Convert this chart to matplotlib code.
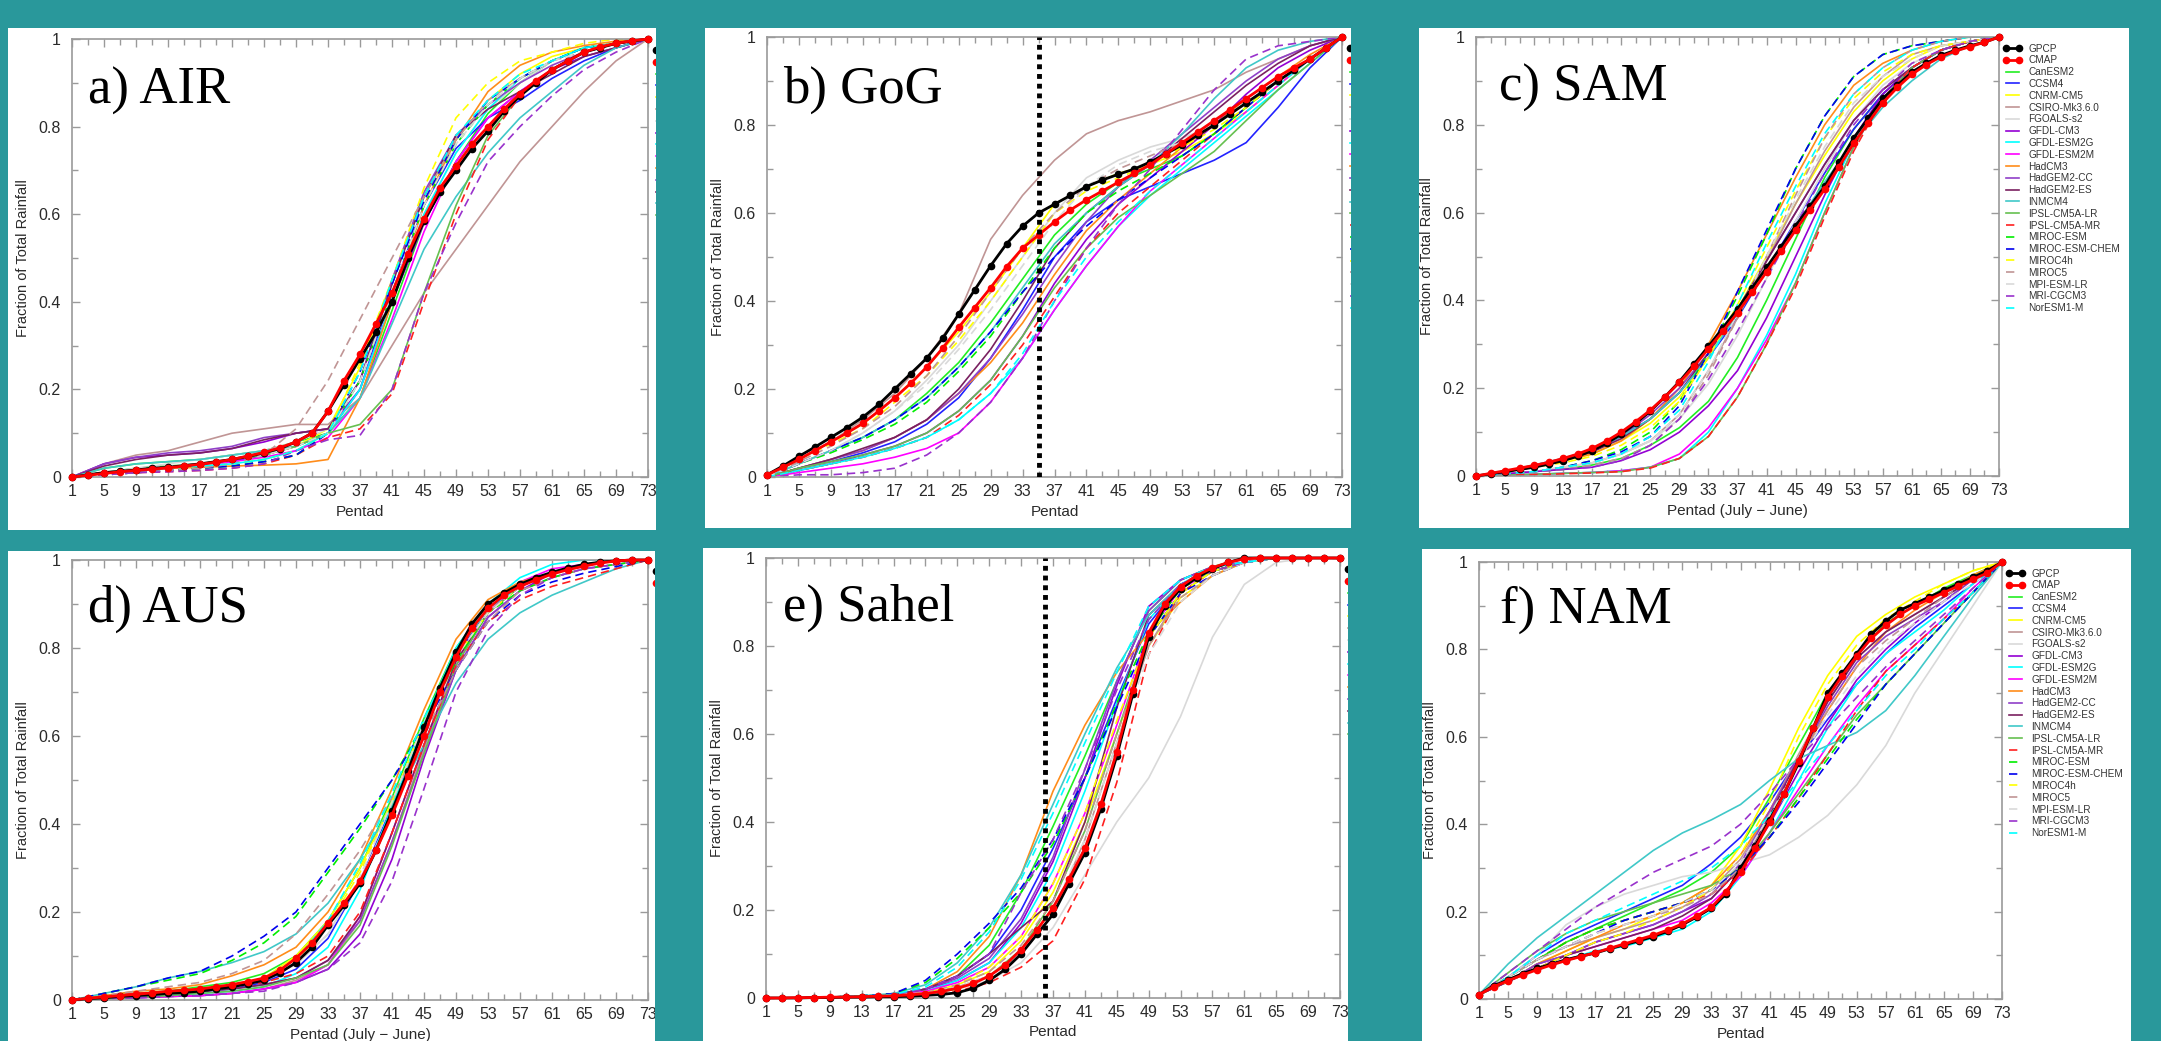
import matplotlib
matplotlib.use("Agg")
import matplotlib.pyplot as plt
from matplotlib.path import Path
from matplotlib.patches import PathPatch
from matplotlib.transforms import Bbox, TransformedBbox

plt.rcParams['font.family'] = ['Liberation Sans', 'DejaVu Sans']

OBS_PENTADS = list(range(1, 74, 2))
MODEL_PENTADS = list(range(1, 74, 4))

MODEL_NAMES = ["CanESM2", "CCSM4", "CNRM-CM5", "CSIRO-Mk3.6.0", "FGOALS-s2", "GFDL-CM3",
               "GFDL-ESM2G", "GFDL-ESM2M", "HadCM3", "HadGEM2-CC", "HadGEM2-ES", "INMCM4",
               "IPSL-CM5A-LR", "IPSL-CM5A-MR", "MIROC-ESM", "MIROC-ESM-CHEM", "MIROC4h",
               "MIROC5", "MPI-ESM-LR", "MRI-CGCM3", "NorESM1-M"]
MODEL_COLORS = ["#22ee22", "#2222ff", "#ffff00", "#c09595", "#d9d9d9", "#9400d3",
                "#00ffff", "#ff00ff", "#ff8c1a", "#9040c8", "#7a2060", "#40c8c8",
                "#66c050", "#ff2020", "#00ee00", "#0000ee", "#ffff00", "#c09595",
                "#d9d9d9", "#9932cc", "#00ffff"]
MODEL_DASHED = [False] * 13 + [True] * 8

# a) AIR
AIR_GPCP = [0, .005, .01, .013, .016, .02, .022, .026, .03, .035, .04, .047, .055, .065, .08, .10, .15, .21, .27,
            .33, .40, .50, .585, .65, .70, .75, .79, .835, .87, .90, .93, .95, .97, .98, .99, .995, 1]
AIR_CMAP = [0, .004, .008, .012, .015, .018, .021, .025, .029, .034, .04, .048, .056, .067, .08, .10, .15, .22, .28,
            .35, .42, .51, .59, .66, .71, .76, .80, .84, .875, .905, .93, .95, .97, .982, .99, .996, 1]
AIR_MODELS = [
    [0, .02, .03, .035, .04, .05, .06, .08, .10, .18, .38, .58, .72, .83, .90, .95, .98, .99, 1],
    [0, .01, .015, .02, .025, .035, .05, .07, .10, .20, .42, .62, .75, .82, .86, .91, .95, .98, 1],
    [0, .01, .015, .02, .03, .04, .05, .07, .11, .25, .45, .64, .77, .86, .92, .96, .98, .99, 1],
    [0, .03, .05, .06, .08, .10, .11, .12, .12, .18, .30, .42, .52, .62, .72, .80, .88, .95, 1],
    [0, .01, .02, .03, .04, .05, .06, .08, .11, .20, .40, .60, .74, .84, .90, .95, .98, .99, 1],
    [0, .03, .045, .05, .055, .065, .08, .10, .11, .20, .40, .58, .72, .82, .88, .93, .96, .98, 1],
    [0, .01, .015, .02, .025, .03, .04, .06, .10, .20, .40, .60, .74, .84, .91, .95, .98, .99, 1],
    [0, .01, .015, .02, .025, .035, .045, .06, .09, .18, .36, .56, .72, .82, .88, .93, .97, .99, 1],
    [0, .01, .015, .02, .022, .025, .027, .03, .04, .18, .40, .62, .77, .88, .94, .97, .985, .995, 1],
    [0, .03, .045, .055, .06, .07, .09, .10, .11, .22, .45, .65, .78, .85, .90, .94, .97, .99, 1],
    [0, .025, .04, .05, .055, .065, .085, .10, .11, .22, .44, .64, .78, .84, .88, .92, .96, .98, 1],
    [0, .02, .03, .035, .04, .05, .06, .07, .10, .18, .35, .52, .64, .74, .82, .88, .94, .98, 1],
    [0, .01, .02, .025, .03, .04, .05, .07, .10, .12, .20, .42, .62, .78, .87, .93, .97, .99, 1],
    [0, .005, .01, .012, .015, .02, .03, .05, .09, .11, .19, .40, .60, .77, .87, .93, .97, .99, 1],
    [0, .005, .01, .015, .02, .025, .035, .05, .10, .22, .42, .62, .76, .85, .91, .95, .98, .99, 1],
    [0, .005, .01, .015, .02, .025, .035, .05, .10, .24, .44, .63, .77, .86, .91, .95, .98, .99, 1],
    [0, .01, .015, .02, .025, .03, .04, .06, .10, .26, .45, .66, .82, .90, .95, .97, .99, 1, 1],
    [0, .005, .01, .015, .02, .03, .05, .11, .22, .36, .50, .64, .77, .86, .91, .95, .97, .99, 1],
    [0, .01, .02, .025, .03, .04, .05, .07, .10, .22, .42, .62, .76, .85, .91, .95, .97, .99, 1],
    [0, .005, .01, .012, .015, .02, .03, .06, .085, .095, .20, .42, .58, .72, .80, .87, .93, .97, 1],
    [0, .01, .015, .02, .025, .03, .04, .06, .10, .24, .45, .64, .78, .86, .92, .95, .98, .99, 1],
]

# b) GoG
GOG_GPCP = [.005, .025, .047, .068, .09, .112, .136, .165, .20, .235, .27, .315, .37, .425, .48, .53, .57, .60, .62,
            .64, .66, .675, .688, .70, .716, .735, .755, .778, .80, .825, .85, .875, .90, .925, .95, .975, 1]
GOG_CMAP = [.005, .022, .04, .06, .08, .10, .122, .15, .18, .213, .25, .293, .34, .385, .43, .478, .52, .55, .58,
            .607, .63, .65, .67, .69, .71, .735, .76, .785, .81, .835, .86, .885, .91, .93, .95, .975, 1]
GOG_MODELS = [
    [0, .03, .06, .09, .13, .19, .26, .35, .45, .55, .62, .67, .70, .73, .78, .84, .90, .95, 1],
    [0, .02, .035, .055, .08, .12, .18, .27, .38, .50, .58, .63, .66, .69, .72, .76, .84, .93, 1],
    [0, .04, .08, .12, .18, .25, .33, .42, .52, .62, .66, .69, .71, .74, .78, .83, .89, .95, 1],
    [0, .04, .08, .13, .19, .27, .37, .54, .64, .72, .78, .81, .83, .855, .88, .92, .95, .98, 1],
    [0, .03, .06, .10, .15, .22, .30, .40, .50, .60, .68, .72, .75, .77, .80, .85, .90, .95, 1],
    [0, .015, .03, .05, .07, .10, .15, .22, .32, .44, .54, .62, .68, .74, .80, .87, .93, .97, 1],
    [0, .015, .03, .045, .065, .09, .13, .19, .27, .38, .48, .57, .64, .70, .76, .82, .88, .94, 1],
    [0, .01, .02, .03, .045, .065, .10, .17, .27, .38, .48, .57, .65, .71, .77, .83, .89, .95, 1],
    [0, .02, .04, .06, .09, .13, .19, .26, .35, .46, .56, .63, .69, .75, .80, .86, .91, .96, 1],
    [0, .02, .04, .06, .09, .13, .19, .27, .37, .48, .58, .66, .72, .78, .84, .90, .95, .98, 1],
    [0, .02, .04, .065, .09, .13, .20, .29, .40, .52, .60, .66, .71, .77, .83, .89, .94, .98, 1],
    [0, .03, .06, .09, .13, .18, .25, .33, .43, .53, .60, .66, .71, .78, .86, .93, .97, .99, 1],
    [0, .02, .035, .05, .07, .10, .15, .22, .32, .43, .52, .59, .64, .69, .74, .81, .88, .94, 1],
    [0, .015, .03, .045, .065, .09, .14, .21, .30, .41, .52, .60, .66, .72, .78, .84, .90, .95, 1],
    [0, .03, .055, .085, .12, .17, .24, .32, .42, .52, .60, .65, .69, .73, .78, .84, .90, .95, 1],
    [0, .03, .06, .09, .13, .18, .25, .33, .42, .50, .57, .63, .68, .73, .78, .84, .90, .95, 1],
    [0, .04, .075, .11, .17, .23, .31, .40, .50, .60, .65, .68, .71, .75, .79, .84, .90, .95, 1],
    [0, .035, .07, .11, .16, .23, .32, .42, .52, .60, .66, .70, .73, .76, .80, .85, .90, .95, 1],
    [0, .03, .06, .10, .15, .21, .29, .38, .48, .58, .66, .71, .74, .76, .80, .85, .90, .95, 1],
    [0, .005, .005, .01, .02, .05, .10, .17, .27, .40, .52, .62, .70, .79, .88, .95, .98, .99, 1],
    [0, .015, .03, .045, .065, .09, .13, .19, .28, .40, .50, .58, .65, .71, .77, .83, .89, .95, 1],
]

# c) SAM
SAM_GPCP = [0, .005, .01, .015, .02, .027, .035, .045, .058, .075, .095, .12, .148, .18, .215, .255, .295, .338, .38,
            .428, .475, .522, .57, .615, .66, .715, .77, .815, .86, .89, .92, .94, .958, .97, .98, .988, 1]
SAM_CMAP = [0, .006, .012, .018, .024, .031, .04, .05, .063, .08, .10, .124, .15, .18, .213, .25, .29, .33, .372,
            .418, .465, .512, .56, .607, .653, .705, .758, .805, .85, .885, .915, .937, .955, .968, .978, .988, 1]
SAM_MODELS = [
    [0, .005, .01, .015, .025, .04, .07, .11, .17, .27, .40, .54, .68, .79, .87, .93, .97, .99, 1],
    [0, .01, .02, .035, .055, .09, .13, .19, .27, .36, .47, .58, .69, .79, .87, .93, .97, .99, 1],
    [0, .01, .02, .035, .05, .08, .12, .18, .27, .38, .50, .62, .73, .83, .90, .95, .98, .99, 1],
    [0, .005, .01, .02, .03, .05, .08, .14, .24, .36, .49, .62, .74, .84, .91, .96, .98, .99, 1],
    [0, .005, .01, .02, .03, .05, .08, .13, .21, .32, .45, .58, .70, .81, .89, .94, .97, .99, 1],
    [0, .005, .01, .015, .02, .035, .06, .10, .16, .24, .36, .50, .64, .77, .87, .93, .97, .99, 1],
    [0, .002, .004, .006, .008, .012, .02, .04, .10, .20, .32, .46, .62, .76, .86, .93, .97, .99, 1],
    [0, .002, .004, .006, .008, .012, .02, .05, .11, .20, .31, .44, .60, .75, .86, .93, .97, .99, 1],
    [0, .01, .02, .035, .05, .08, .13, .20, .30, .42, .55, .68, .80, .89, .94, .97, .99, 1, 1],
    [0, .01, .025, .04, .06, .09, .14, .20, .28, .38, .49, .60, .71, .81, .88, .93, .97, .99, 1],
    [0, .01, .02, .035, .055, .085, .13, .19, .28, .38, .49, .60, .71, .81, .88, .93, .97, .99, 1],
    [0, .01, .025, .04, .06, .09, .13, .19, .27, .37, .47, .57, .67, .76, .84, .90, .95, .98, 1],
    [0, .002, .004, .006, .008, .01, .02, .04, .09, .18, .30, .44, .60, .75, .86, .93, .97, .99, 1],
    [0, .002, .003, .005, .007, .01, .018, .04, .09, .18, .30, .43, .59, .74, .86, .93, .97, .99, 1],
    [0, .005, .01, .02, .035, .06, .10, .17, .28, .41, .55, .70, .82, .91, .96, .98, .99, 1, 1],
    [0, .005, .01, .02, .035, .055, .09, .16, .28, .42, .56, .70, .82, .91, .96, .98, .99, 1, 1],
    [0, .01, .02, .03, .045, .07, .11, .17, .27, .39, .52, .65, .77, .86, .92, .96, .98, .99, 1],
    [0, .005, .01, .015, .025, .04, .07, .13, .23, .36, .50, .64, .77, .87, .93, .97, .99, 1, 1],
    [0, .005, .01, .02, .03, .05, .08, .14, .24, .37, .50, .63, .75, .85, .91, .95, .98, .99, 1],
    [0, .005, .01, .015, .02, .035, .07, .13, .22, .33, .45, .57, .69, .80, .88, .94, .97, .99, 1],
    [0, .005, .01, .02, .03, .05, .09, .15, .26, .39, .53, .66, .78, .87, .93, .97, .99, 1, 1],
]

# d) AUS
AUS_GPCP = [0, .003, .005, .008, .01, .012, .015, .017, .02, .025, .03, .037, .045, .062, .085, .12, .17, .215, .265,
            .34, .43, .52, .62, .71, .79, .855, .90, .925, .945, .96, .972, .982, .99, .995, .998, 1, 1]
AUS_CMAP = [0, .004, .007, .01, .013, .016, .02, .022, .025, .03, .035, .042, .05, .068, .095, .13, .175, .22, .27,
            .34, .42, .51, .60, .70, .78, .845, .89, .92, .94, .955, .968, .978, .986, .993, .998, 1, 1]
AUS_MODELS = [
    [0, .01, .015, .02, .03, .04, .06, .10, .18, .30, .46, .64, .80, .90, .95, .97, .99, 1, 1],
    [0, .005, .01, .015, .02, .025, .04, .07, .14, .27, .44, .62, .78, .89, .94, .97, .99, 1, 1],
    [0, .005, .01, .015, .02, .03, .05, .10, .18, .30, .45, .63, .79, .89, .94, .97, .99, 1, 1],
    [0, .003, .005, .008, .01, .015, .025, .045, .08, .18, .36, .57, .77, .88, .94, .97, .99, 1, 1],
    [0, .005, .01, .015, .02, .03, .05, .08, .15, .27, .43, .61, .77, .88, .94, .97, .99, 1, 1],
    [0, .003, .005, .008, .01, .015, .025, .04, .07, .15, .32, .55, .75, .87, .93, .97, .99, 1, 1],
    [0, .005, .005, .01, .015, .02, .03, .06, .12, .25, .44, .63, .80, .90, .96, .99, 1, 1, 1],
    [0, .003, .005, .008, .01, .015, .025, .04, .08, .19, .38, .58, .76, .88, .95, .98, .99, 1, 1],
    [0, .01, .02, .025, .035, .055, .08, .12, .20, .32, .48, .66, .82, .91, .95, .97, .99, 1, 1],
    [0, .005, .01, .015, .02, .025, .035, .05, .09, .18, .36, .56, .75, .87, .93, .96, .98, .99, 1],
    [0, .005, .01, .015, .02, .025, .035, .05, .09, .19, .38, .58, .77, .88, .94, .97, .99, 1, 1],
    [0, .015, .03, .05, .065, .085, .11, .15, .22, .32, .44, .58, .72, .82, .88, .92, .95, .98, 1],
    [0, .003, .005, .01, .015, .02, .03, .05, .08, .17, .35, .56, .76, .88, .94, .97, .99, 1, 1],
    [0, .01, .015, .02, .025, .03, .04, .06, .10, .20, .38, .58, .76, .86, .91, .94, .96, .98, 1],
    [0, .015, .03, .045, .06, .09, .13, .19, .29, .39, .50, .63, .77, .88, .93, .96, .98, .99, 1],
    [0, .015, .03, .05, .065, .10, .145, .20, .30, .40, .50, .62, .75, .86, .92, .95, .97, .985, 1],
    [0, .005, .01, .015, .02, .03, .05, .09, .17, .29, .45, .63, .78, .88, .94, .97, .99, 1, 1],
    [0, .01, .02, .03, .04, .06, .09, .15, .24, .34, .46, .60, .75, .86, .93, .96, .98, .99, 1],
    [0, .005, .01, .015, .02, .03, .05, .08, .15, .28, .45, .63, .78, .88, .94, .97, .99, 1, 1],
    [0, .003, .005, .008, .01, .015, .02, .04, .07, .13, .27, .48, .70, .84, .92, .96, .98, .99, 1],
    [0, .005, .01, .015, .02, .03, .05, .09, .18, .31, .47, .64, .79, .89, .94, .97, .99, 1, 1],
]

# e) Sahel
SAHEL_GPCP = [0, 0, 0, .001, .001, .002, .002, .003, .003, .004, .006, .008, .012, .022, .04, .065, .10, .145, .19,
              .26, .33, .43, .55, .69, .82, .89, .93, .955, .975, .99, 1, 1, 1, 1, 1, 1, 1]
SAHEL_CMAP = [0, 0, .001, .001, .002, .002, .003, .004, .005, .007, .01, .015, .022, .033, .05, .075, .11, .155, .205,
              .27, .34, .44, .56, .70, .83, .895, .935, .96, .978, .99, .998, 1, 1, 1, 1, 1, 1]
SAHEL_MODELS = [
    [0, 0, .002, .004, .008, .02, .05, .12, .24, .39, .55, .72, .88, .95, .98, 1, 1, 1, 1],
    [0, 0, .002, .004, .008, .02, .05, .10, .20, .34, .50, .68, .85, .94, .97, .99, 1, 1, 1],
    [0, 0, .002, .004, .006, .012, .03, .06, .13, .24, .40, .60, .80, .91, .96, .99, 1, 1, 1],
    [0, 0, .002, .004, .006, .01, .025, .05, .10, .19, .36, .58, .80, .92, .97, .99, 1, 1, 1],
    [0, 0, .002, .004, .006, .01, .02, .04, .08, .16, .28, .40, .50, .64, .82, .94, .99, 1, 1],
    [0, 0, .002, .004, .008, .02, .04, .08, .17, .31, .50, .71, .89, .95, .98, .99, 1, 1, 1],
    [0, 0, .002, .004, .008, .015, .04, .08, .16, .29, .47, .67, .86, .94, .98, .99, 1, 1, 1],
    [0, 0, .002, .004, .008, .015, .035, .07, .14, .26, .42, .62, .83, .93, .97, .99, 1, 1, 1],
    [0, 0, .002, .004, .008, .02, .06, .14, .28, .47, .62, .74, .83, .90, .96, .99, 1, 1, 1],
    [0, 0, .002, .004, .008, .02, .045, .09, .18, .32, .52, .72, .88, .95, .98, .99, 1, 1, 1],
    [0, 0, .002, .004, .008, .02, .05, .10, .16, .22, .40, .66, .87, .94, .97, .99, 1, 1, 1],
    [0, 0, .002, .005, .01, .03, .08, .16, .28, .44, .60, .75, .87, .94, .97, .99, 1, 1, 1],
    [0, 0, .002, .004, .006, .01, .02, .05, .11, .22, .38, .60, .82, .92, .97, .99, 1, 1, 1],
    [0, 0, .001, .002, .003, .005, .015, .035, .07, .13, .27, .49, .78, .92, .97, .99, 1, 1, 1],
    [0, 0, .002, .005, .01, .035, .09, .16, .24, .35, .50, .67, .83, .93, .97, .99, 1, 1, 1],
    [0, 0, .002, .005, .01, .04, .10, .17, .25, .36, .50, .66, .82, .92, .96, .99, 1, 1, 1],
    [0, 0, .002, .004, .006, .012, .03, .07, .14, .26, .42, .63, .82, .92, .97, .99, 1, 1, 1],
    [0, 0, .002, .004, .006, .012, .03, .06, .12, .22, .38, .60, .80, .91, .96, .99, 1, 1, 1],
    [0, 0, .002, .004, .006, .01, .025, .05, .10, .20, .36, .58, .78, .90, .96, .99, 1, 1, 1],
    [0, 0, .002, .004, .008, .02, .05, .10, .24, .36, .52, .70, .86, .94, .97, .99, 1, 1, 1],
    [0, 0, .002, .004, .008, .025, .07, .15, .27, .42, .58, .74, .89, .95, .98, .99, 1, 1, 1],
]

# f) NAM
NAM_GPCP = [.01, .03, .044, .058, .07, .08, .09, .098, .105, .115, .124, .133, .143, .155, .17, .188, .208, .24, .30,
            .35, .41, .47, .54, .62, .70, .745, .79, .835, .865, .89, .905, .92, .935, .95, .965, .98, 1]
NAM_CMAP = [.01, .028, .042, .055, .067, .078, .088, .097, .106, .116, .126, .136, .146, .158, .172, .19, .21, .245,
            .29, .345, .405, .47, .545, .62, .69, .74, .785, .825, .855, .88, .90, .915, .93, .945, .96, .975, 1]
NAM_MODELS = [
    [.01, .05, .09, .13, .16, .19, .22, .25, .29, .35, .46, .58, .70, .79, .86, .90, .94, .97, 1],
    [.01, .05, .10, .14, .17, .20, .23, .26, .31, .37, .45, .55, .64, .72, .79, .85, .90, .95, 1],
    [.01, .04, .08, .11, .14, .16, .19, .22, .26, .35, .48, .62, .74, .83, .88, .92, .95, .98, 1],
    [.01, .05, .09, .12, .14, .16, .18, .21, .25, .32, .43, .56, .68, .78, .84, .88, .92, .96, 1],
    [.01, .05, .10, .17, .21, .24, .26, .28, .29, .31, .33, .37, .42, .49, .58, .70, .80, .90, 1],
    [.01, .04, .08, .10, .13, .15, .17, .20, .23, .30, .40, .52, .63, .73, .80, .86, .91, .96, 1],
    [.01, .04, .07, .09, .11, .12, .14, .16, .20, .28, .38, .50, .62, .72, .79, .84, .89, .95, 1],
    [.01, .04, .07, .10, .12, .14, .16, .18, .22, .28, .38, .48, .58, .67, .75, .81, .87, .94, 1],
    [.01, .04, .08, .11, .14, .17, .19, .22, .26, .33, .43, .55, .66, .76, .84, .89, .93, .97, 1],
    [.01, .04, .08, .10, .13, .15, .17, .20, .24, .31, .43, .55, .67, .77, .83, .87, .91, .96, 1],
    [.01, .04, .07, .10, .12, .14, .16, .19, .23, .30, .42, .55, .68, .78, .84, .88, .92, .96, 1],
    [.01, .08, .14, .19, .24, .29, .34, .38, .41, .445, .50, .55, .58, .61, .66, .74, .83, .92, 1],
    [.01, .06, .11, .15, .18, .20, .22, .24, .26, .30, .38, .47, .56, .65, .72, .79, .86, .93, 1],
    [.01, .05, .09, .13, .16, .18, .20, .22, .24, .29, .37, .46, .56, .66, .75, .81, .87, .93, 1],
    [.01, .05, .09, .13, .16, .18, .20, .22, .25, .30, .37, .46, .55, .64, .72, .79, .86, .93, 1],
    [.01, .05, .09, .12, .15, .18, .20, .22, .25, .30, .37, .45, .54, .63, .72, .79, .86, .93, 1],
    [.01, .04, .07, .10, .13, .15, .18, .21, .25, .33, .45, .60, .72, .81, .87, .91, .95, .98, 1],
    [.01, .05, .09, .12, .15, .17, .19, .21, .24, .30, .41, .54, .66, .76, .82, .87, .92, .96, 1],
    [.01, .05, .09, .12, .15, .17, .19, .22, .25, .31, .42, .54, .65, .74, .81, .86, .91, .95, 1],
    [.01, .06, .11, .16, .21, .25, .29, .32, .35, .40, .47, .55, .62, .69, .76, .82, .88, .94, 1],
    [.01, .05, .10, .15, .18, .21, .24, .27, .30, .35, .42, .50, .58, .66, .74, .80, .87, .93, 1],
]

PANEL_TITLES = ["a) AIR", "b) GoG", "c) SAM", "d) AUS", "e) Sahel", "f) NAM"]
PANEL_XLABELS = ["Pentad", "Pentad", "Pentad (July \u2212 June)",
                 "Pentad (July \u2212 June)", "Pentad", "Pentad"]
PANEL_DATA = [(AIR_GPCP, AIR_CMAP, AIR_MODELS), (GOG_GPCP, GOG_CMAP, GOG_MODELS),
              (SAM_GPCP, SAM_CMAP, SAM_MODELS), (AUS_GPCP, AUS_CMAP, AUS_MODELS),
              (SAHEL_GPCP, SAHEL_CMAP, SAHEL_MODELS), (NAM_GPCP, NAM_CMAP, NAM_MODELS)]
ONSET_LINE = [None, 35, None, None, 36, None]
# only panels c and f have room for the legend text; elsewhere it is cropped
LEGEND_TEXT = [False, False, True, False, False, True]

W, H = 2161, 1041
TEAL = "#29989b"

# pixel layout (x0, x1, y0, y1) measured from the top-left corner
AX_BOXES = [(72, 648, 39, 477), (767, 1342, 37, 477), (1476, 1999, 37, 476),
            (72, 648, 560, 1000), (766, 1340, 558, 998), (1479, 2002, 562, 999)]
WHITE_BOXES = [(8, 656, 28, 530), (705, 1351, 28, 528), (1419, 2129, 28, 528),
               (8, 655, 551, 1041), (703, 1348, 548, 1041), (1422, 2131, 549, 1041)]
TITLE_POS = [(0.027, 0.852), (0.028, 0.85), (0.044, 0.854),
             (0.027, 0.86), (0.03, 0.857), (0.04, 0.86)]

fig = plt.figure(figsize=(W / 100, H / 100), dpi=100, facecolor="white")


def style_axes(ax, xlabel):
    ax.set_xlim(1, 73)
    ax.set_ylim(0, 1)
    ax.set_xticks(range(1, 74, 4))
    ax.set_xticks(range(3, 74, 4), minor=True)
    ax.set_yticks([0, .2, .4, .6, .8, 1])
    ax.set_yticklabels(["0", "0.2", "0.4", "0.6", "0.8", "1"])
    ax.set_yticks([.1, .3, .5, .7, .9], minor=True)
    ax.tick_params(which="both", direction="in", top=True, right=True,
                   color="#9a9a9a", width=1, labelsize=11.5, labelcolor="#2a2a2a")
    ax.tick_params(which="major", length=6)
    ax.tick_params(which="minor", length=4)
    ax.tick_params(axis="x", pad=5)
    ax.tick_params(axis="y", pad=8)
    for s in ax.spines.values():
        s.set_color("#9a9a9a")
        s.set_linewidth(1.2)
    ax.set_xlabel(xlabel, fontsize=11, labelpad=4, color="#2a2a2a")
    ax.set_ylabel("Fraction of Total Rainfall", fontsize=10.5, labelpad=6, color="#2a2a2a")


for i in range(6):
    x0, x1, y0, y1 = AX_BOXES[i]
    ax = fig.add_axes([x0 / W, 1 - y1 / H, (x1 - x0) / W, (y1 - y0) / H])
    gpcp, cmap, models = PANEL_DATA[i]

    handles = []
    for name, vals, color, dashed in zip(MODEL_NAMES, models, MODEL_COLORS, MODEL_DASHED):
        ls = (0, (5, 3)) if dashed else "-"
        h, = ax.plot(MODEL_PENTADS, vals, color=color, lw=1.2, ls=ls, label=name, zorder=2)
        handles.append(h)
    hg, = ax.plot(OBS_PENTADS, gpcp, color="black", lw=2, marker="o", ms=4.5,
                  label="GPCP", zorder=3, clip_on=False)
    hc, = ax.plot(OBS_PENTADS, cmap, color="red", lw=2, marker="o", ms=4.5,
                  label="CMAP", zorder=3, clip_on=False)
    handles = [hg, hc] + handles

    if ONSET_LINE[i] is not None:
        ax.axvline(ONSET_LINE[i], color="black", lw=3.5, ls=(0, (1, 1)), zorder=4)

    style_axes(ax, PANEL_XLABELS[i])
    tx, ty = TITLE_POS[i]
    ax.text(tx, ty, PANEL_TITLES[i], transform=ax.transAxes, fontsize=38,
            family="Liberation Serif", ha="left", va="baseline", zorder=5)

    labels = [h.get_label() if LEGEND_TEXT[i] else " " for h in handles]
    leg = ax.legend(handles, labels, loc="upper left",
                    bbox_to_anchor=(1.008, 0.985), frameon=False, fontsize=7.2,
                    handlelength=1.9, handletextpad=0.6, labelspacing=0.18,
                    borderpad=0, borderaxespad=0, numpoints=2, labelcolor="#333333")

    # the legend is cut off at the edge of its own white panel
    bx0, bx1, by0, by1 = WHITE_BOXES[i]
    clip = TransformedBbox(Bbox.from_extents(bx0 / W, 1 - by1 / H, bx1 / W, 1 - by0 / H),
                           fig.transFigure)
    for art in list(leg.get_texts()) + list(leg.legend_handles):
        art.set_clip_box(clip)
        art.set_clip_on(True)

# teal background with white holes, drawn over everything
mask = fig.add_axes([0, 0, 1, 1], zorder=10)
mask.set_xlim(0, W)
mask.set_ylim(H, 0)
mask.axis("off")
mask.patch.set_alpha(0)
verts = [(0, 0), (W, 0), (W, H), (0, H), (0, 0)]
codes = [Path.MOVETO, Path.LINETO, Path.LINETO, Path.LINETO, Path.CLOSEPOLY]
for bx0, bx1, by0, by1 in WHITE_BOXES:
    verts += [(bx0, by0), (bx0, by1), (bx1, by1), (bx1, by0), (bx0, by0)]
    codes += [Path.MOVETO, Path.LINETO, Path.LINETO, Path.LINETO, Path.CLOSEPOLY]
mask.add_patch(PathPatch(Path(verts, codes), facecolor=TEAL, edgecolor="none"))

fig.savefig("out.png", dpi=100, facecolor="white")
